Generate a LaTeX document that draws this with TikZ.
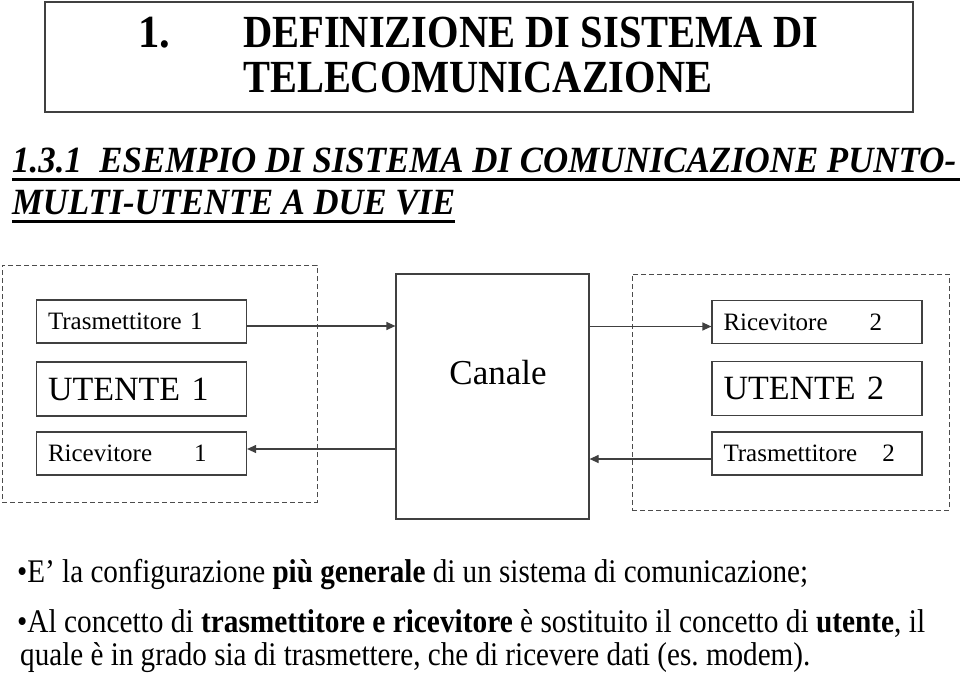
\documentclass[tikz,border=0pt]{standalone}
\usepackage{fontspec}
\setmainfont{Liberation Serif}
\usepackage{graphicx}
\usetikzlibrary{arrows.meta}
\newcommand\fitto[2]{\resizebox{#1}{\height}{#2}}
\frenchspacing
\begin{document}
\begin{tikzpicture}[x=1pt,y=-1pt,
  frame/.style={draw=black!75,line width=1.3pt},
  dashbox/.style={draw=black!70,line width=0.9pt,dash pattern=on 5pt off 3pt},
  blk/.style={draw=black!75,line width=1.2pt,rectangle,inner ysep=0pt,align=left,font=\fontsize{25}{28}\selectfont},
  small/.style={blk,minimum height=43pt,text width=187pt,inner xsep=11.5pt,font=\fontsize{25}{28}\selectfont},
  big/.style={blk,minimum height=54pt,text width=187pt,inner xsep=11.5pt,font=\fontsize{34}{38}\selectfont},
  txt/.style={inner sep=0pt,anchor=base west},
  conn/.style={draw=black!75,line width=1.2pt,-{Triangle[length=9pt,width=8pt]}}
]
\useasboundingbox (0,0) rectangle (960,674);
\fill[white] (0,0) rectangle (960,674);
% title
\node[frame,rectangle,minimum width=868pt,minimum height=110pt,inner sep=0pt] (titlebox) at (479,57) {};
\node[txt,font=\fontsize{46}{50}\selectfont\bfseries] (tnum) at (138,48) {\fitto{32pt}{1.}};
\node[txt,font=\fontsize{46}{50}\selectfont\bfseries] (tl1) at (243,48) {\fitto{575pt}{DEFINIZIONE DI SISTEMA DI}};
\node[txt,font=\fontsize{46}{50}\selectfont\bfseries] (tl2) at (243,93) {\fitto{469pt}{TELECOMUNICAZIONE}};
% subheading
\node[txt,font=\fontsize{37}{40}\selectfont\bfseries\itshape] (sh1) at (12,172) {\fitto{944pt}{1.3.1\ \ ESEMPIO DI SISTEMA DI COMUNICAZIONE PUNTO-}};
\node[txt,font=\fontsize{37}{40}\selectfont\bfseries\itshape] (sh2) at (12,214) {\fitto{443pt}{MULTI-UTENTE A DUE VIE}};
\draw[line width=3pt] (sh1.base west) ++(0,7) coordinate (u1a) -- (960,179) coordinate (u1b);
\draw[line width=3pt] (sh2.base west) ++(0,7) coordinate (u2a) -- (sh2.base east |- 0,221) coordinate (u2b);
% dashed user boxes
\node[dashbox,rectangle,minimum width=315pt,minimum height=237pt,inner sep=0pt] (user1) at (159.5,383.5) {};
\node[dashbox,rectangle,minimum width=317pt,minimum height=236pt,inner sep=0pt] (user2) at (790.5,392) {};
% left boxes
\node[small] (t1) at (141.5,321.5) {Trasmettitore 1};
\node[big] (u1) at (141.5,389) {UTENTE 1};
\node[small] (r1) at (141.5,453.5) {Ricevitore\hspace*{42pt}1};
% right boxes
\node[small] (r2) at (817,322) {Ricevitore\hspace*{42pt}2};
\node[big] (u2) at (817,388.5) {UTENTE 2};
\node[small] (t2) at (817,453.5) {Trasmettitore\hspace*{25pt}2};
% channel
\node[blk,minimum width=193pt,minimum height=245pt,inner sep=0pt] (canale) at (492.5,396.5) {};
\node[inner sep=0pt,font=\fontsize{35}{40}\selectfont] (canlbl) at (498,373) {Canale};
% connectors
\draw[conn] ([yshift=-4.5pt]t1.east) -- ([yshift=-4.5pt]t1.east -| canale.west);
\draw[conn] ([yshift=4.5pt]r1.east -| canale.west) -- ([yshift=4.5pt]r1.east);
\draw[conn] ([yshift=-4.5pt]r2.west -| canale.east) -- ([yshift=-4.5pt]r2.west);
\draw[conn] ([yshift=-5.5pt]t2.west) -- ([yshift=-5.5pt]t2.west -| canale.east);
% bottom text
\node[txt,font=\fontsize{33}{36}\selectfont] (b1) at (17,582) {\fitto{791pt}{•E’ la configurazione \textbf{più generale} di un sistema di comunicazione;}};
\node[txt,font=\fontsize{33}{36}\selectfont] (b2) at (17,632) {\fitto{908pt}{•Al concetto di \textbf{trasmettitore e ricevitore} è sostituito il concetto di \textbf{utente}, il}};
\node[txt,font=\fontsize{33}{36}\selectfont] (b3) at (20,665) {\fitto{790pt}{quale è in grado sia di trasmettere, che di ricevere dati (es. modem).}};
\end{tikzpicture}
\end{document}
